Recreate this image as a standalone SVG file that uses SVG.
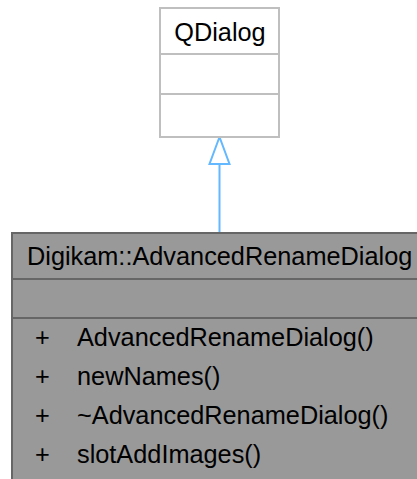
<svg xmlns="http://www.w3.org/2000/svg" width="417" height="479" viewBox="0 0 417 479">
<style>
text{font-family:"Liberation Sans",Arial,sans-serif;font-size:25.3px;fill:#000}
.ext rect{fill:#fff;stroke:#bfbfbf;stroke-width:2}
.ext line{stroke:#bfbfbf;stroke-width:2}
.cur rect{fill:#999999;stroke:#666666;stroke-width:2}
.cur line{stroke:#666666;stroke-width:2}
.edge{stroke:#63b8ff;stroke-width:2;fill:none}
</style>
<defs>
<marker id="inh" markerUnits="userSpaceOnUse" markerWidth="30" markerHeight="24" refX="28" refY="12" orient="auto" viewBox="0 0 30 24">
<polygon points="28,12 1,2 1,22" fill="#fff" stroke="#63b8ff" stroke-width="2"/>
</marker>
</defs>
<g id="connectors">
<line class="edge" x1="219.5" y1="233" x2="219.5" y2="137" marker-end="url(#inh)"/>
</g>
<g id="QDialog" class="ext">
<rect x="160" y="8" width="119" height="129"/>
<line x1="160" y1="54" x2="279" y2="54"/>
<line x1="160" y1="94" x2="279" y2="94"/>
<text x="220" y="41" text-anchor="middle">QDialog</text>
</g>
<g id="AdvancedRenameDialog" class="cur">
<rect x="12" y="233" width="430" height="270"/>
<line x1="12" y1="279" x2="442" y2="279"/>
<line x1="12" y1="318" x2="442" y2="318"/>
<text x="27" y="265">Digikam::AdvancedRenameDialog</text>
<text x="35" y="346">+</text><text x="77" y="346">AdvancedRenameDialog()</text>
<text x="35" y="385">+</text><text x="77" y="385">newNames()</text>
<text x="35" y="424">+</text><text x="77" y="424">~AdvancedRenameDialog()</text>
<text x="35" y="463">+</text><text x="77" y="463">slotAddImages()</text>
</g>
</svg>
